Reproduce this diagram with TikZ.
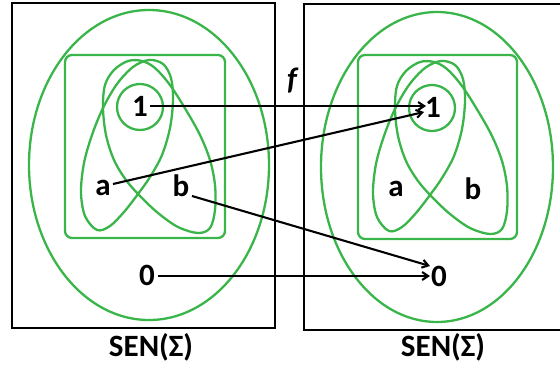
\documentclass[tikz,border=0pt]{standalone}
\usepackage{fontspec}
\setmainfont{Carlito}
\usetikzlibrary{arrows.meta}
\definecolor{vgreen}{RGB}{57,181,74}
\begin{document}
\begin{tikzpicture}[x=1pt,y=-1pt,
  frame/.style={draw=black,line width=2.8pt},
  gline/.style={draw=vgreen,line width=2.3pt},
  lab/.style={font=\fontsize{31}{34}\selectfont\bfseries,inner sep=1pt},
  arr/.style={draw=black,line width=2.1pt,-{Straight Barb[length=6pt,width=8pt]}}]
\useasboundingbox (0,0) rectangle (560,368);
\def\eggA{plot[smooth cycle,tension=0.55] coordinates {(97,230) (85,216) (81,192) (84,163) (92,135) (103,108) (117,84) (133,67) (149,60) (163,64) (171,78) (173,100) (170,128) (162,155) (150,177) (138,194) (124,212) (110,226)}}
\def\eggB{plot[smooth cycle,tension=0.55] coordinates {(128,61) (114,70) (105,85) (103,108) (106,135) (114,160) (126,180) (140,196) (158,213) (178,227) (198,233) (210,228) (215,210) (215,185) (210,160) (200,135) (186,110) (170,85) (155,68) (142,61)}}
% frames
\draw[frame] (12,3) rectangle (275,328);
\draw[frame] (304,4) rectangle (566,330);
% left structure
\begin{scope}
\draw[gline] (149,165) ellipse [x radius=120,y radius=155];
\draw[gline,rounded corners=7pt] (65,55) rectangle (225,238);
\draw[gline] (140,107) circle [radius=23];
\draw[gline] \eggA;
\draw[gline] \eggB;
\end{scope}
\begin{scope}[xshift=292pt,yshift=-1pt]
\draw[gline] (145,166) ellipse [x radius=116,y radius=155];
\draw[gline,rounded corners=7pt] (66,54) rectangle (225,238);
\draw[gline] (140,107) circle [radius=23];
\draw[gline] \eggA;
\draw[gline] \eggB;
\end{scope}
% labels
\node[lab] (l1) at (140,106) {1};
\node[lab] (la) at (103,188) {a};
\node[lab] (lb) at (181,186) {b};
\node[lab] (l0) at (147,275) {0};
\node[lab] (r1) at (433,107) {1};
\node[lab] (ra) at (396,189) {a};
\node[lab] (rb) at (473,189) {b};
\node[lab] (r0) at (439,276) {0};
\node[lab] (sl) at (151,347) {SEN(Σ)};
\node[lab] (sr) at (443,347) {SEN(Σ)};
\node[font=\fontsize{31}{34}\selectfont\bfseries\itshape] (f) at (292,81) {f};
% arrows
\coordinate (s1) at (150,106);
\coordinate (e1) at (426,106);
\coordinate (sa) at (113,184);
\coordinate (ea) at (424,112);
\coordinate (sb) at (192,196);
\coordinate (eb) at (430,266);
\coordinate (s0) at (158,276);
\coordinate (e0) at (430,276);
\draw[arr] (s1) -- (e1);
\draw[arr] (sa) -- (ea);
\draw[arr] (sb) -- (eb);
\draw[arr] (s0) -- (e0);
\end{tikzpicture}
\end{document}
